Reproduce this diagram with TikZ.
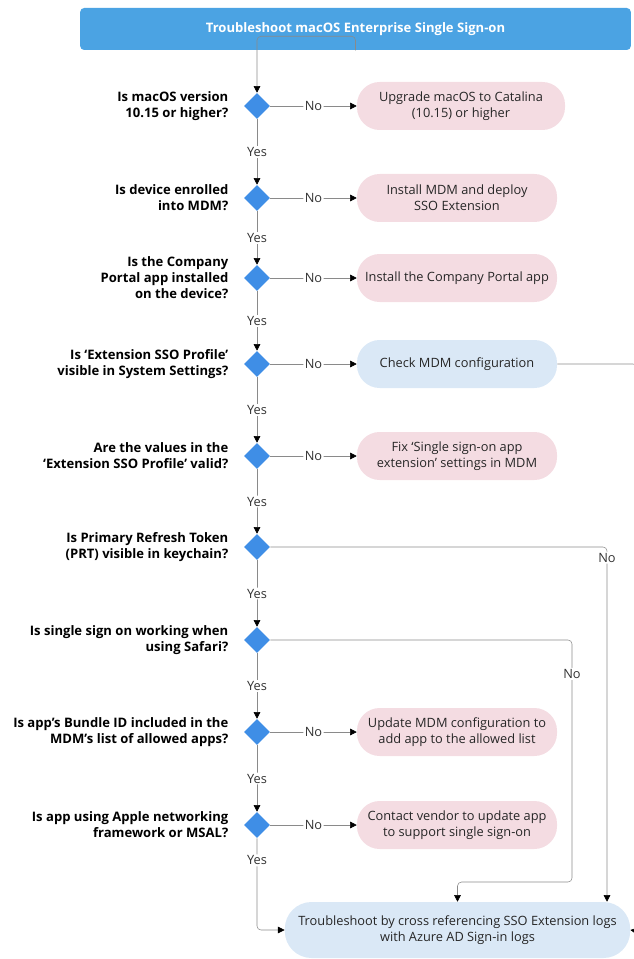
\documentclass[tikz,border=0pt]{standalone}
\usepackage{fontspec}
\setmainfont{Open Sans}
\usetikzlibrary{shapes.geometric,arrows.meta}
\definecolor{titleblue}{HTML}{4BA3E3}
\definecolor{diablue}{HTML}{3F8EE6}
\definecolor{fixpink}{HTML}{F4DCE2}
\definecolor{logblue}{HTML}{DAE8F6}
\definecolor{linegray}{HTML}{8A8A8A}
\tikzset{
  every node/.style={font=\fontsize{9.6}{12}\selectfont},
  title/.style={rectangle, rounded corners=3pt, fill=titleblue, text=white,
    font=\fontsize{9.8}{12}\selectfont\bfseries, minimum width=413pt, minimum height=31.5pt},
  decision/.style={diamond, fill=diablue, minimum width=19.5pt, minimum height=19.5pt, inner sep=0pt},
  question/.style={anchor=east, align=right, font=\fontsize{9.8}{12}\selectfont\bfseries},
  fix/.style={rectangle, rounded corners=17pt, fill=fixpink, align=center,
    minimum width=150pt, minimum height=36pt, text=black!85},
  check/.style={fix, fill=logblue},
  lbl/.style={fill=white, inner sep=1pt, text=black!80},
  arr/.style={draw=linegray, rounded corners=3pt, -{Triangle[length=5pt,width=5pt,color=black]}}
}
\begin{document}
\begin{tikzpicture}[x=0.75pt,y=-0.75pt]
  \useasboundingbox (0,0) rectangle (634,959);
  \node[title] (title) at (355.5,29) {Troubleshoot macOS Enterprise Single Sign-on};

  \node[decision] (d1) at (257,106) {};
  \node[decision] (d2) at (257,198) {};
  \node[decision] (d3) at (257,278) {};
  \node[decision] (d4) at (257,364) {};
  \node[decision] (d5) at (257,456) {};
  \node[decision] (d6) at (257,547) {};
  \node[decision] (d7) at (257,640) {};
  \node[decision] (d8) at (257,732) {};
  \node[decision] (d9) at (257,825) {};

  \node[question] (q1) at (233,106) {Is macOS version\\10.15 or higher?};
  \node[question] (q2) at (233,198) {Is device enrolled\\into MDM?};
  \node[question] (q3) at (233,278) {Is the Company\\Portal app installed\\on the device?};
  \node[question] (q4) at (233,364) {Is ‘Extension SSO Profile’\\visible in System Settings?};
  \node[question] (q5) at (233,456) {Are the values in the\\‘Extension SSO Profile’ valid?};
  \node[question] (q6) at (233,547) {Is Primary Refresh Token\\(PRT) visible in keychain?};
  \node[question] (q7) at (233,640) {Is single sign on working when\\using Safari?};
  \node[question] (q8) at (233,732) {Is app’s Bundle ID included in the\\MDM’s list of allowed apps?};
  \node[question] (q9) at (233,825) {Is app using Apple networking\\framework or MSAL?};

  \node[fix, minimum width=156pt] (a1) at (461,106) {Upgrade macOS to Catalina\\(10.15) or higher};
  \node[fix] (a2) at (457,198) {Install MDM and deploy\\SSO Extension};
  \node[fix] (a3) at (457,278) {Install the Company Portal app};
  \node[check] (a4) at (457,364) {Check MDM configuration};
  \node[fix] (a5) at (457,456) {Fix ‘Single sign-on app\\extension’ settings in MDM};
  \node[fix] (a8) at (457,732) {Update MDM configuration to\\add app to the allowed list};
  \node[fix] (a9) at (457,825) {Contact vendor to update app\\to support single sign-on};
  \node[check, minimum width=259pt, minimum height=42pt, rounded corners=20pt] (fin) at (457.5,930)
    {Troubleshoot by cross referencing SSO Extension logs\\with Azure AD Sign-in logs};

  \coordinate (rt) at (637,364);
  \coordinate (rb) at (637,931);
  \coordinate (c6) at (607,547);
  \coordinate (c7a) at (572,640);
  \coordinate (c7b) at (572,882);

  \draw[arr] (title.south) -- ++(0,-14) -| (d1.north);
  \draw[arr] (d1) -- node[lbl]{Yes} (d2);
  \draw[arr] (d2) -- node[lbl]{Yes} (d3);
  \draw[arr] (d3) -- node[lbl]{Yes} (d4);
  \draw[arr] (d4) -- node[lbl]{Yes} (d5);
  \draw[arr] (d5) -- node[lbl]{Yes} (d6);
  \draw[arr] (d6) -- node[lbl]{Yes} (d7);
  \draw[arr] (d7) -- node[lbl]{Yes} (d8);
  \draw[arr] (d8) -- node[lbl]{Yes} (d9);
  \draw[arr] (d9) |- node[lbl, pos=.12]{Yes} (fin.west);

  \draw[arr] (d1) -- node[lbl]{No} (a1);
  \draw[arr] (d2) -- node[lbl]{No} (a2);
  \draw[arr] (d3) -- node[lbl]{No} (a3);
  \draw[arr] (d4) -- node[lbl]{No} (a4);
  \draw[arr] (d5) -- node[lbl]{No} (a5);
  \draw[arr] (d8) -- node[lbl]{No} (a8);
  \draw[arr] (d9) -- node[lbl]{No} (a9);

  \draw[arr] (a4) -- (rt) -- (rb) -- (fin.east);
  \draw[arr] (d6) -| node[lbl, pos=.515]{No} (c6 |- fin.north);
  \draw[arr] (d7) -- (c7a) -- node[lbl, pos=.14]{No} (c7b) -| (fin.north);
\end{tikzpicture}
\end{document}
